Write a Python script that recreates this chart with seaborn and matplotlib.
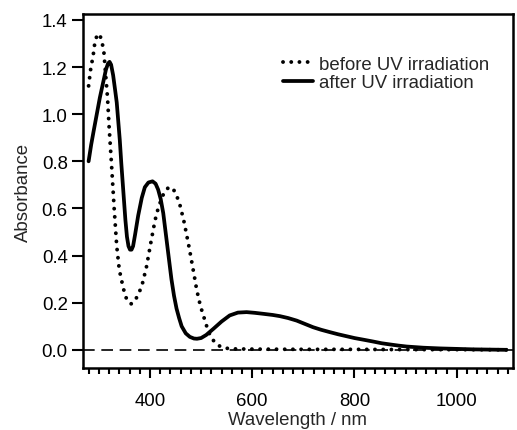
import numpy as np
import pandas as pd
import matplotlib
matplotlib.use('Agg')
import matplotlib.pyplot as plt
from matplotlib.ticker import MultipleLocator
import seaborn as sns

# wavelength (nm) / absorbance
before_nm = [280, 284, 289, 292, 297, 302, 306, 310, 314, 317, 320, 325, 330, 335,
             340, 348, 355, 363, 370, 378, 384, 393, 403, 410, 416, 424, 430, 437,
             445, 452, 458, 462, 467, 472, 477, 482, 487, 491, 496, 501, 506, 511,
             517, 524, 530, 537, 545, 560, 600, 700, 800, 900, 1000, 1100]
before_abs = [1.12, 1.19, 1.25, 1.30, 1.34, 1.335, 1.31, 1.26, 1.15, 1.07, 0.95, 0.78,
              0.60, 0.44, 0.34, 0.26, 0.21, 0.195, 0.205, 0.24, 0.27, 0.35, 0.47, 0.55,
              0.60, 0.65, 0.675, 0.69, 0.685, 0.655, 0.62, 0.585, 0.54, 0.485, 0.43,
              0.37, 0.31, 0.26, 0.21, 0.17, 0.135, 0.10, 0.065, 0.04, 0.025, 0.015,
              0.008, 0.004, 0.003, 0.002, 0.002, 0.001, 0.001, 0.0]

after_nm = [280, 285, 290, 296, 302, 309, 314, 318, 321, 324, 328, 332, 335, 338, 341,
            344, 347, 350, 352, 355, 358, 361, 364, 367, 371, 377, 384, 390, 397, 405,
            411, 416, 421, 426, 430, 434, 438, 442, 447, 452, 457, 462, 470, 478, 486,
            492, 500, 510, 524, 540, 556, 572, 589, 605, 621, 640, 654, 670, 687, 703,
            719, 735, 752, 768, 784, 800, 820, 837, 853, 869, 886, 902, 935, 967, 1000,
            1032, 1065, 1097]
after_abs = [0.80, 0.87, 0.93, 1.00, 1.07, 1.14, 1.19, 1.215, 1.222, 1.21, 1.165, 1.10,
             1.05, 0.97, 0.89, 0.79, 0.70, 0.61, 0.55, 0.48, 0.44, 0.425, 0.425, 0.44,
             0.49, 0.57, 0.645, 0.69, 0.71, 0.715, 0.705, 0.68, 0.64, 0.58, 0.51, 0.44,
             0.37, 0.30, 0.23, 0.175, 0.135, 0.10, 0.07, 0.055, 0.048, 0.047, 0.05,
             0.063, 0.089, 0.12, 0.146, 0.158, 0.16, 0.157, 0.153, 0.148, 0.143, 0.135,
             0.124, 0.11, 0.096, 0.085, 0.075, 0.066, 0.058, 0.05, 0.042, 0.035, 0.028,
             0.023, 0.018, 0.014, 0.009, 0.006, 0.004, 0.002, 0.001, 0.0]

labels = ['before UV irradiation', 'after UV irradiation']

FS = 13.4

sns.set_theme(style='ticks')
plt.rcParams['font.family'] = ['Liberation Sans', 'DejaVu Sans']
plt.rcParams['font.size'] = FS

fig = plt.figure(figsize=(5.17, 4.31), dpi=100)
ax = fig.add_axes([0.1605, 0.1439, 0.8317, 0.8213])

ax.axhline(0, color='black', lw=1.2, ls=(0, (7, 4)), zorder=1)

sns.lineplot(x=before_nm, y=before_abs, ax=ax, color='black', lw=2.8,
             ls=(0, (0.01, 2.1)), dash_capstyle='round', sort=False,
             label=labels[0], zorder=3)
sns.lineplot(x=after_nm, y=after_abs, ax=ax, color='black', lw=2.7,
             sort=False, label=labels[1], zorder=2)

ax.set_xlim(269, 1110)
ax.set_ylim(-0.077, 1.425)
ax.xaxis.set_major_locator(MultipleLocator(200))
ax.xaxis.set_minor_locator(MultipleLocator(20))
ax.set_yticks(np.arange(0, 1.41, 0.2))
ax.set_yticklabels([f'{v:.1f}' for v in np.arange(0, 1.41, 0.2)])

for s in ax.spines.values():
    s.set_visible(True)
    s.set_linewidth(1.8)
    s.set_color('black')

ax.tick_params(axis='y', which='major', direction='out', length=8, width=1.5,
               pad=3, labelsize=FS, colors='black')
ax.tick_params(axis='x', which='major', direction='out', length=7.5, width=1.5,
               pad=10, labelsize=FS, colors='black')
ax.tick_params(axis='x', which='minor', direction='out', length=4, width=1.5,
               colors='black')

ax.set_xlabel('Wavelength / nm', fontsize=FS, labelpad=1)
ax.set_ylabel('Absorbance', fontsize=FS, labelpad=7)

ax.legend(loc='upper left', bbox_to_anchor=(0.443, 0.909), frameon=False,
          borderpad=0, handlelength=1.6, handletextpad=0.37, labelspacing=0.1,
          fontsize=FS)

fig.savefig('out.png', dpi=100)
